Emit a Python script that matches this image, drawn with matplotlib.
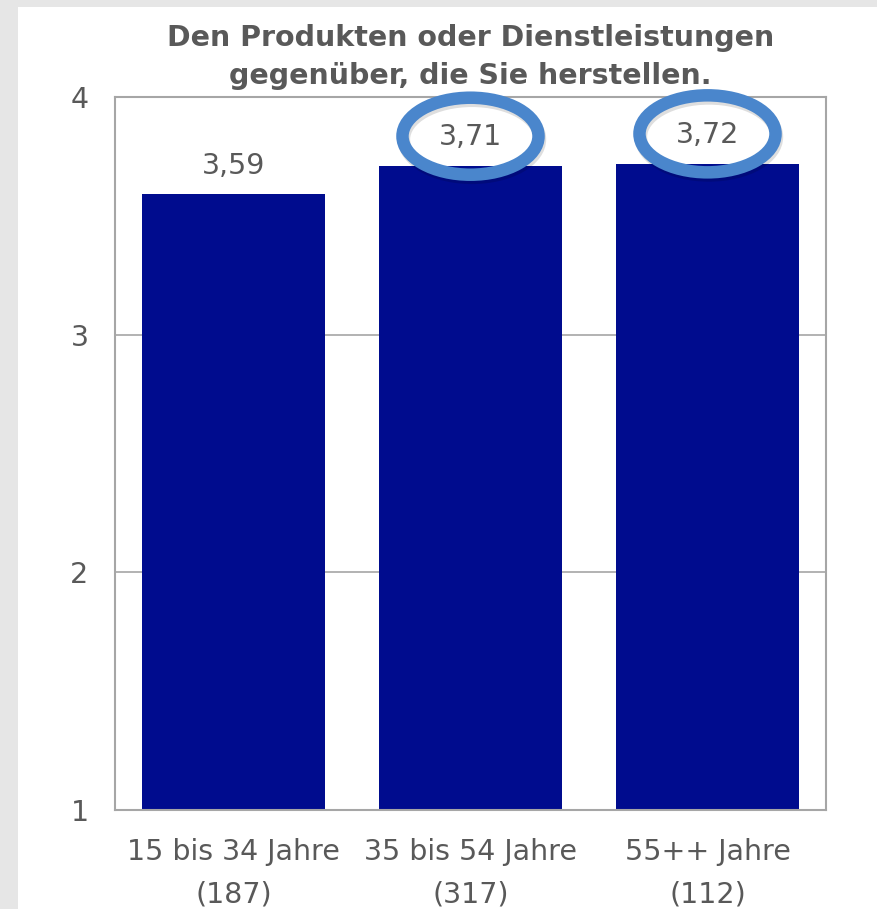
import matplotlib.pyplot as plt
from matplotlib.patches import Ellipse, Rectangle

# Daten
categories = ["15 bis 34 Jahre\n(187)", "35 bis 54 Jahre\n(317)", "55++ Jahre\n(112)"]
values = [3.59, 3.71, 3.72]
highlighted = [1, 2]   # Balken mit Kreis um den Wert
yticks = [1, 2, 3, 4]
title = "Den Produkten oder Dienstleistungen\ngegenüber, die Sie herstellen."

text_grey = "#595959"
bar_color = "#000c8e"
circle_color = "#4a86cc"
fonts = ["DejaVu Sans Condensed", "DejaVu Sans"]
fs = 20.5

fig = plt.figure(figsize=(8.77, 9.09), dpi=100, facecolor="#e6e6e6")
# weisse Flaeche hinter dem Diagramm
fig.patches.append(Rectangle((18/877, 0), 1, 1 - 7/909, transform=fig.transFigure,
                             facecolor="white", edgecolor="none", zorder=-5))

ax = fig.add_axes([115/877, 99/909, 711/877, 713/909])
ax.set_facecolor("white")

x = list(range(len(values)))
ax.bar(x, values, width=0.768, bottom=0, color=bar_color, zorder=2)
ax.set_xlim(-0.5, len(values) - 0.5)
ax.set_ylim(1, 4)
ax.set_yticks(yticks)
ax.set_xticks(x)
ax.set_xticklabels(categories, family=fonts, fontsize=fs, color=text_grey, linespacing=1.65)
ax.set_yticklabels([str(t) for t in yticks], family=fonts, fontsize=fs, color=text_grey)
ax.tick_params(axis="both", length=0)
ax.tick_params(axis="y", pad=19)
ax.tick_params(axis="x", pad=20)

ax.yaxis.grid(True, color="#a6a6a6", lw=1.2, zorder=1)
for s in ax.spines.values():
    s.set_color("#a6a6a6")
    s.set_linewidth(1.5)

# Werte ueber den Balken
for i, v in enumerate(values):
    ax.text(i, v + 0.12, f"{v:.2f}".replace(".", ","), ha="center", va="center",
            family=fonts, fontsize=fs, color=text_grey, zorder=4)

# Kreise um die hervorgehobenen Werte
for i in highlighted:
    v = values[i]
    shadow = Ellipse((i + 0.006, v + 0.112), 0.574, 0.324, fill=False,
                     edgecolor="black", alpha=0.13, lw=9, zorder=5, clip_on=False)
    ax.add_patch(shadow)
    ring = Ellipse((i, v + 0.125), 0.574, 0.324, fill=False,
                   edgecolor=circle_color, lw=9, zorder=6, clip_on=False)
    ax.add_patch(ring)

ax.set_title(title, family=fonts, fontsize=fs, fontweight="bold", color=text_grey,
             pad=9, linespacing=1.5)

fig.savefig("out.png", dpi=100, facecolor=fig.get_facecolor())
